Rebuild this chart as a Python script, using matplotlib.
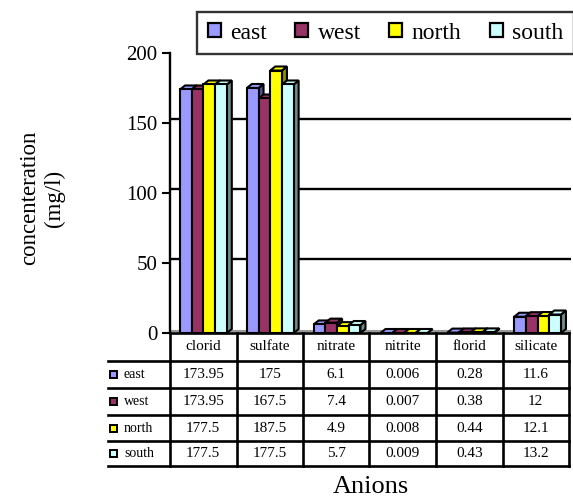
import numpy as np
import matplotlib.pyplot as plt
from matplotlib.patches import Polygon, Patch, Rectangle
from matplotlib.lines import Line2D
from matplotlib import transforms, colors as mcolors

plt.rcParams['font.family'] = ['Liberation Serif', 'DejaVu Serif']

# Anion concentrations (mg/l) at the four sampling sites
anions = ['clorid', 'sulfate', 'nitrate', 'nitrite', 'florid', 'silicate']
sites = ['east', 'west', 'north', 'south']
east = [173.95, 175, 6.1, 0.006, 0.28, 11.6]
west = [173.95, 167.5, 7.4, 0.007, 0.38, 12]
north = [177.5, 187.5, 4.9, 0.008, 0.44, 12.1]
south = [177.5, 177.5, 5.7, 0.009, 0.43, 13.2]
table_text = [['173.95', '175', '6.1', '0.006', '0.28', '11.6'],
              ['173.95', '167.5', '7.4', '0.007', '0.38', '12'],
              ['177.5', '187.5', '4.9', '0.008', '0.44', '12.1'],
              ['177.5', '177.5', '5.7', '0.009', '0.43', '13.2']]
yticks = [0, 50, 100, 150, 200]

series = [east, west, north, south]
site_colors = ['#9999FF', '#993366', '#FFFF00', '#CCFFFF']

W, H = 573, 499
def fx(x):
    return x / W
def fy(y):
    return 1 - y / H

fig = plt.figure(figsize=(W / 100, H / 100), dpi=100)
ax_left, ax_right, ax_top, ax_bottom = 170, 571, 53, 333
ax = fig.add_axes([fx(ax_left), fy(ax_bottom), fx(ax_right - ax_left),
                   (ax_bottom - ax_top) / H])
ax.set_xlim(-0.5, 5.5)
ax.set_ylim(0, 200)

# depth of the pseudo-3D bars, in pixels
dpx, dpy = 5, 4
col_px = (ax_right - ax_left) / 6
ddx = dpx / col_px
ddy = dpy * 200 / (ax_bottom - ax_top)

# back wall gridlines, pushed up by the depth
for v in yticks[1:]:
    ln = ax.axhline(v, color='black', lw=1.7, zorder=0.5)
    ln.set_transform(transforms.offset_copy(ln.get_transform(), fig=fig,
                                            x=0, y=dpy, units='dots'))
fl = ax.axhline(0, color='#999999', lw=1.5, zorder=0.4)
fl.set_transform(transforms.offset_copy(fl.get_transform(), fig=fig,
                                        x=0, y=2, units='dots'))

x = np.arange(len(anions))
bw = 0.175
elw = 1.5
for i, (vals, c) in enumerate(zip(series, site_colors)):
    dark = tuple(np.array(mcolors.to_rgb(c)) * 0.55)
    for j, h in enumerate(vals):
        x0 = x[j] + (i - 2) * bw
        z = 2 + i * 0.1
        side = Polygon([(x0 + bw, 0), (x0 + bw + ddx, ddy),
                        (x0 + bw + ddx, h + ddy), (x0 + bw, h)],
                       closed=True, facecolor=dark, edgecolor='black',
                       lw=elw, zorder=z)
        top = Polygon([(x0, h), (x0 + ddx, h + ddy), (x0 + bw + ddx, h + ddy),
                       (x0 + bw, h)], closed=True, facecolor=c,
                      edgecolor='black', lw=elw, zorder=z)
        ax.add_patch(side)
        ax.add_patch(top)
        ax.bar(x0, h, width=bw, align='edge', color=c, edgecolor='black',
               lw=elw, zorder=z + 0.05)

for s in ['top', 'right', 'bottom']:
    ax.spines[s].set_visible(False)
ax.spines['left'].set_linewidth(1.7)
ax.set_xticks([])
ax.set_yticks(yticks)
ax.tick_params(axis='y', direction='out', length=6, width=1.5, labelsize=15, pad=3)
ax.patch.set_alpha(0)

# data table under the bars
row_y = [333, 361, 388, 415, 441, 466]
col_x = [170 + k * (569 - 170) / 6 for k in range(7)]
lab_left = 108
lw_t = 1.9
for xx in col_x:
    fig.add_artist(Line2D([fx(xx)] * 2, [fy(row_y[0]), fy(row_y[-1])],
                          color='black', lw=lw_t))
fig.add_artist(Line2D([fx(col_x[0]), fx(col_x[-1])], [fy(row_y[0])] * 2,
                      color='black', lw=lw_t))
for yy in row_y[1:]:
    fig.add_artist(Line2D([fx(lab_left), fx(col_x[-1])], [fy(yy)] * 2,
                          color='black', lw=lw_t))
for k, name in enumerate(anions):
    cx = (col_x[k] + col_x[k + 1]) / 2
    fig.text(fx(cx), fy((row_y[0] + row_y[1]) / 2), name, ha='center',
             va='center', fontsize=11)
    for r in range(4):
        fig.text(fx(cx), fy((row_y[r + 1] + row_y[r + 2]) / 2),
                 table_text[r][k], ha='center', va='center', fontsize=11)
for r, (name, c) in enumerate(zip(sites, site_colors)):
    cy = (row_y[r + 1] + row_y[r + 2]) / 2
    fig.add_artist(Rectangle((fx(110), fy(cy + 3.5)), fx(7), 7 / H,
                             facecolor=c, edgecolor='black', lw=1.4,
                             transform=fig.transFigure))
    fig.text(fx(124), fy(cy), name, ha='left', va='center', fontsize=10)

fig.text(fx(371), fy(487), 'Anions', ha='center', va='center', fontsize=19)
fig.text(fx(42), fy(198), 'concenteration\n(mg/l)', ha='center', va='center',
         rotation=90, fontsize=16.5, multialignment='center', linespacing=1.2)

handles = [Patch(facecolor=c, edgecolor='black', lw=1.6) for c in site_colors]
leg = fig.legend(handles, sites, loc='upper left',
                 bbox_to_anchor=(fx(197), fy(12)), ncol=4, fontsize=17,
                 frameon=True, fancybox=False, borderaxespad=0,
                 handlelength=0.55, handleheight=0.55, handletextpad=0.4,
                 columnspacing=1.2, borderpad=0.45)
leg.get_frame().set_edgecolor('black')
leg.get_frame().set_linewidth(1.7)
leg.set_zorder(10)

fig.savefig('out.png', dpi=100)
